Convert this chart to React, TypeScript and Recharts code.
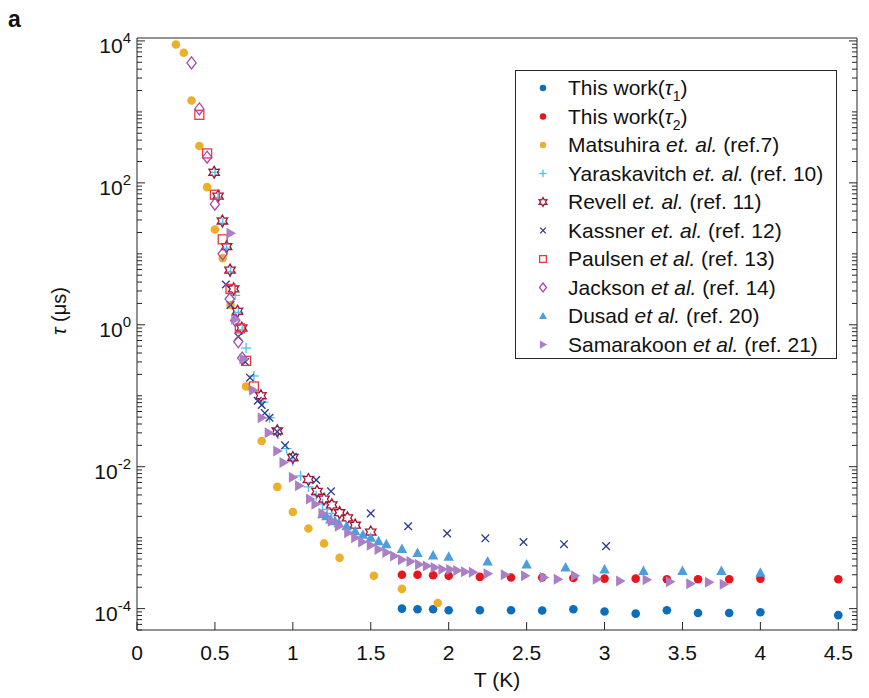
import React from 'react';
import { ScatterChart, Scatter, XAxis, YAxis, Legend } from 'recharts';

// [T (K), tau (us)]
const thisWorkTau1 = [
  [1.7, 1.0e-4], [1.8, 9.8e-5], [1.9, 9.8e-5], [2.0, 9.5e-5], [2.2, 9.5e-5], [2.4, 9.5e-5],
  [2.6, 9.4e-5], [2.8, 9.8e-5], [3.0, 9.1e-5], [3.2, 8.5e-5], [3.4, 9.5e-5], [3.6, 8.7e-5],
  [3.8, 8.7e-5], [4.0, 8.9e-5], [4.5, 8.1e-5],
];
const thisWorkTau2 = [
  [1.7, 3.0e-4], [1.8, 3.0e-4], [1.9, 2.95e-4], [2.0, 2.9e-4], [2.2, 2.8e-4], [2.4, 2.75e-4],
  [2.6, 2.75e-4], [2.8, 2.7e-4], [3.0, 2.65e-4], [3.2, 2.65e-4], [3.4, 2.6e-4], [3.6, 2.6e-4],
  [3.8, 2.6e-4], [4.0, 2.65e-4], [4.5, 2.6e-4],
];
const matsuhira = [
  [0.25, 8.9e3], [0.3, 6.8e3], [0.35, 1.45e3], [0.4, 330], [0.45, 87], [0.5, 22], [0.55, 8.7],
  [0.6, 1.9], [0.7, 0.135], [0.8, 0.023], [0.9, 5.2e-3], [1.0, 2.3e-3], [1.1, 1.35e-3],
  [1.2, 8.3e-4], [1.3, 5.2e-4], [1.52, 2.9e-4], [1.7, 1.9e-4], [1.93, 1.2e-4],
];
const yaraskavitch = [
  [0.5, 141], [0.52, 62], [0.55, 27], [0.575, 12], [0.6, 5.6], [0.63, 2.6], [0.65, 1.5],
  [0.675, 0.85], [0.7, 0.47], [0.75, 0.19], [0.81, 0.081], [0.85, 0.049], [0.905, 0.029],
  [0.96, 0.018], [1.0, 0.012], [1.05, 7.4e-3], [1.1, 5.2e-3], [1.15, 3.9e-3], [1.19, 3.0e-3],
  [1.22, 2.5e-3], [1.25, 2.2e-3],
];
const revell = [
  [0.495, 141], [0.52, 65], [0.548, 29], [0.575, 12.6], [0.597, 5.9], [0.62, 3.2], [0.645, 1.55],
  [0.672, 0.9], [0.795, 0.1], [0.9, 0.032], [1.0, 0.0135], [1.1, 6.6e-3], [1.155, 4.5e-3],
  [1.2, 3.5e-3], [1.25, 2.9e-3], [1.3, 2.25e-3], [1.35, 1.9e-3], [1.4, 1.5e-3], [1.5, 1.2e-3],
];
const kassner = [
  [0.57, 3.7], [0.6, 1.9], [0.65, 0.68], [0.695, 0.3], [0.725, 0.18], [0.775, 0.085], [0.8, 0.074],
  [0.82, 0.057], [0.85, 0.049], [0.9, 0.031], [0.95, 0.02], [1.0, 0.0138], [1.15, 6.5e-3],
  [1.245, 4.5e-3], [1.5, 2.2e-3], [1.74, 1.45e-3], [1.99, 1.15e-3], [2.235, 9.8e-4],
  [2.48, 8.7e-4], [2.74, 8.1e-4], [3.01, 7.6e-4],
];
const paulsen = [
  [0.4, 910], [0.45, 260], [0.5, 68], [0.55, 16], [0.6, 3.2], [0.66, 0.89], [0.7, 0.31], [0.75, 0.135],
];
const jackson = [
  [0.35, 4.9e3], [0.4, 1.1e3], [0.45, 230], [0.5, 50], [0.55, 10], [0.595, 2.3], [0.63, 1.15],
  [0.65, 0.58], [0.675, 0.34],
];
const dusad = [
  [1.19, 2.15e-3], [1.215, 2.0e-3], [1.24, 1.8e-3], [1.27, 1.7e-3], [1.295, 1.6e-3], [1.345, 1.45e-3],
  [1.4, 1.23e-3], [1.45, 1.1e-3], [1.5, 1.0e-3], [1.55, 8.9e-4], [1.6, 8.1e-4], [1.7, 6.9e-4],
  [1.8, 6.1e-4], [1.9, 5.6e-4], [2.0, 5.4e-4], [2.25, 4.6e-4], [2.5, 4.2e-4], [2.75, 3.8e-4],
  [3.0, 3.55e-4], [3.25, 3.4e-4], [3.5, 3.4e-4], [3.75, 3.4e-4], [4.0, 3.2e-4],
];
const samarakoon = [
  [0.6, 19.5], [0.63, 1.2], [0.683, 0.33], [0.745, 0.12], [0.8, 0.049], [0.845, 0.03], [0.9, 0.0166],
  [0.94, 0.0115], [1.0, 7.1e-3], [1.04, 5.4e-3], [1.11, 3.5e-3], [1.145, 2.95e-3], [1.19, 2.2e-3],
  [1.25, 1.7e-3], [1.295, 1.45e-3], [1.355, 1.17e-3], [1.4, 1.0e-3], [1.445, 8.7e-4], [1.5, 7.8e-4],
  [1.55, 6.8e-4], [1.6, 6.2e-4], [1.65, 5.5e-4], [1.7, 4.9e-4], [1.755, 4.6e-4], [1.81, 4.2e-4],
  [1.86, 4.0e-4], [1.91, 3.8e-4], [1.96, 3.6e-4], [2.01, 3.55e-4], [2.055, 3.45e-4], [2.105, 3.3e-4],
  [2.155, 3.25e-4], [2.25, 3.1e-4], [2.36, 3.0e-4], [2.49, 2.9e-4], [2.61, 2.75e-4], [2.7, 2.6e-4],
  [2.81, 2.9e-4], [2.95, 2.6e-4], [3.1, 2.45e-4], [3.27, 2.55e-4], [3.42, 2.4e-4], [3.55, 2.25e-4],
  [3.67, 2.35e-4], [3.765, 2.2e-4],
];

const xTicks = [0, 0.5, 1, 1.5, 2, 2.5, 3, 3.5, 4, 4.5];
const yDecades = [-5, -4, -3, -2, -1, 0, 1, 2, 3, 4];
const yMultipliers = [1, 2, 3, 4, 5, 6, 7, 8, 9];
const X_DOMAIN = [0, 4.62];
const Y_DOMAIN = [5e-5, 1.1e4];

const yTicks: number[] = [];
yDecades.forEach(d => yMultipliers.forEach(m => {
  const v = m * Math.pow(10, d);
  if (v >= Y_DOMAIN[0] && v <= Y_DOMAIN[1]) yTicks.push(v);
}));

const AXIS = '#262626';
const FONT = '"Liberation Sans", Arial, Helvetica, sans-serif';

const toPoints = (arr: number[][]) => arr.map(([T, tau]) => ({ T, tau }));

const Marker = ({ kind, color, cx, cy, s = 1 }: any) => {
  if (cx == null || cy == null) return null;
  const sw = 1.3;
  switch (kind) {
    case 'dot':
      return <circle cx={cx} cy={cy} r={4.3 * s} fill={color} />;
    case 'plus':
      return (
        <g stroke={color} strokeWidth={sw}>
          <line x1={cx - 5 * s} y1={cy} x2={cx + 5 * s} y2={cy} />
          <line x1={cx} y1={cy - 5 * s} x2={cx} y2={cy + 5 * s} />
        </g>
      );
    case 'cross':
      return (
        <g stroke={color} strokeWidth={sw}>
          <line x1={cx - 3.8 * s} y1={cy - 3.8 * s} x2={cx + 3.8 * s} y2={cy + 3.8 * s} />
          <line x1={cx - 3.8 * s} y1={cy + 3.8 * s} x2={cx + 3.8 * s} y2={cy - 3.8 * s} />
        </g>
      );
    case 'hexagram': {
      const pts: string[] = [];
      for (let i = 0; i < 12; i++) {
        const r = (i % 2 === 0 ? 6 : 3.4) * s;
        const a = (Math.PI / 6) * i - Math.PI / 2;
        pts.push(`${cx + r * Math.cos(a)},${cy + r * Math.sin(a)}`);
      }
      return <polygon points={pts.join(' ')} fill="none" stroke={color} strokeWidth={sw} />;
    }
    case 'square':
      return <rect x={cx - 4.5 * s} y={cy - 4.5 * s} width={9 * s} height={9 * s} fill="none" stroke={color} strokeWidth={sw} />;
    case 'diamond':
      return (
        <polygon
          points={`${cx},${cy - 6 * s} ${cx + 4.6 * s},${cy} ${cx},${cy + 6 * s} ${cx - 4.6 * s},${cy}`}
          fill="none" stroke={color} strokeWidth={sw}
        />
      );
    case 'triUp':
      return <polygon points={`${cx},${cy - 5.5 * s} ${cx + 5.2 * s},${cy + 4 * s} ${cx - 5.2 * s},${cy + 4 * s}`} fill={color} />;
    case 'triRight':
      return <polygon points={`${cx + 5.5 * s},${cy} ${cx - 4 * s},${cy - 5.5 * s} ${cx - 4 * s},${cy + 5.5 * s}`} fill={color} />;
    default:
      return null;
  }
};

const etal = (name: string, dot: boolean, ref: string) => (
  <>
    {name} <tspan fontStyle="italic">{dot ? 'et. al.' : 'et al.'}</tspan> {ref}
  </>
);

const SERIES = [
  { key: 'tau1', data: thisWorkTau1, kind: 'dot', color: '#0A6EBD',
    label: <>This work<tspan>(</tspan><tspan fontStyle="italic">τ</tspan><tspan dy={6} fontSize={14}>1</tspan><tspan dy={-6}>)</tspan></> },
  { key: 'tau2', data: thisWorkTau2, kind: 'dot', color: '#E8161C',
    label: <>This work<tspan>(</tspan><tspan fontStyle="italic">τ</tspan><tspan dy={6} fontSize={14}>2</tspan><tspan dy={-6}>)</tspan></> },
  { key: 'matsuhira', data: matsuhira, kind: 'dot', color: '#EBB02A', label: etal('Matsuhira', true, '(ref.7)') },
  { key: 'yaraskavitch', data: yaraskavitch, kind: 'plus', color: '#4DBEEE', label: etal('Yaraskavitch', true, '(ref. 10)') },
  { key: 'revell', data: revell, kind: 'hexagram', color: '#A2142F', label: etal('Revell', true, '(ref. 11)') },
  { key: 'kassner', data: kassner, kind: 'cross', color: '#2A3A90', label: etal('Kassner', true, '(ref. 12)') },
  { key: 'paulsen', data: paulsen, kind: 'square', color: '#E8383D', label: etal('Paulsen', false, '(ref. 13)') },
  { key: 'jackson', data: jackson, kind: 'diamond', color: '#A54AB0', label: etal('Jackson', false, '(ref. 14)') },
  { key: 'dusad', data: dusad, kind: 'triUp', color: '#4C9EDC', label: etal('Dusad', false, '(ref. 20)') },
  { key: 'samarakoon', data: samarakoon, kind: 'triRight', color: '#AB7FC6', label: etal('Samarakoon', false, '(ref. 21)') },
];

const isMajorY = (v: number) => {
  const l = Math.log10(v);
  const r = Math.round(l);
  return Math.abs(l - r) < 1e-6 && r % 2 === 0;
};

const BottomTick = ({ x, y, payload }: any) => (
  <g>
    <line x1={x} y1={y} x2={x} y2={y - 8} stroke={AXIS} />
    <text x={x} y={y + 30} textAnchor="middle" fontSize={21} fontFamily={FONT} fill="#111">
      {String(payload.value)}
    </text>
  </g>
);

const TopTick = ({ x, y }: any) => <line x1={x} y1={y} x2={x} y2={y + 8} stroke={AXIS} />;

const LeftTick = ({ x, y, payload }: any) => {
  const v = payload.value;
  const major = isMajorY(v);
  return (
    <g>
      <line x1={x} y1={y} x2={x + (major ? 8 : 5)} y2={y} stroke={AXIS} />
      {major && (
        <text x={x - 6} y={y + 12} textAnchor="end" fontSize={21} fontFamily={FONT} fill="#111">
          10<tspan dy={-10} fontSize={15}>{Math.round(Math.log10(v))}</tspan>
        </text>
      )}
    </g>
  );
};

const RightTick = ({ x, y, payload }: any) => {
  const major = isMajorY(payload.value);
  return <line x1={x} y1={y} x2={x - (major ? 8 : 5)} y2={y} stroke={AXIS} />;
};

const YTitle = () => (
  <g fontFamily={FONT} fill="#111">
    <text x={8} y={27} fontSize={23} fontWeight="bold">a</text>
    <text transform="translate(66,311) rotate(-90)" textAnchor="middle" fontSize={20}>
      <tspan fontStyle="italic">τ</tspan> (μs)
    </text>
  </g>
);

const XTitle = () => (
  <text x={497} y={687} textAnchor="middle" fontSize={21} fontFamily={FONT} fill="#111">T (K)</text>
);

const LegendBox = () => (
  <svg width={322} height={289} style={{ display: 'block' }}>
    <rect x={0.5} y={0.5} width={321} height={288} fill="#fff" stroke={AXIS} />
    {SERIES.map((s, i) => {
      const cy = 18 + i * 28.5;
      return (
        <g key={s.key}>
          <Marker kind={s.kind} color={s.color} cx={28} cy={cy} s={0.75} />
          <text x={53} y={cy + 7} fontSize={21} fontFamily={FONT} fill="#111">{s.label}</text>
        </g>
      );
    })}
  </svg>
);

export default function App() {
  return (
    <div style={{ position: 'absolute', left: 0, top: 0, width: 869, height: 698, background: '#fff' }}>
      <ScatterChart width={869} height={698} margin={{ top: 37, right: 11, bottom: 28, left: 0 }}>
        <XAxis
          xAxisId="bottom" dataKey="T" type="number" domain={X_DOMAIN} ticks={xTicks}
          allowDataOverflow height={40} tickSize={0} tickMargin={0}
          axisLine={{ stroke: AXIS }} tickLine={false} tick={<BottomTick />} interval={0}
          label={<XTitle />}
        />
        <XAxis
          xAxisId="top" orientation="top" type="number" domain={X_DOMAIN} ticks={xTicks}
          allowDataOverflow height={1} tickSize={0} tickMargin={0}
          axisLine={{ stroke: AXIS }} tickLine={false} tick={<TopTick />} interval={0}
        />
        <YAxis
          yAxisId="left" dataKey="tau" type="number" scale="log" domain={Y_DOMAIN} ticks={yTicks}
          allowDataOverflow width={137} tickSize={0} tickMargin={0}
          axisLine={{ stroke: AXIS }} tickLine={false} tick={<LeftTick />} interval={0}
          label={<YTitle />}
        />
        <YAxis
          yAxisId="right" orientation="right" type="number" scale="log" domain={Y_DOMAIN} ticks={yTicks}
          allowDataOverflow width={1} tickSize={0} tickMargin={0}
          axisLine={{ stroke: AXIS }} tickLine={false} tick={<RightTick />} interval={0}
        />
        {SERIES.map(s => (
          <Scatter
            key={s.key}
            name={s.key}
            xAxisId="bottom"
            yAxisId="left"
            data={toPoints(s.data)}
            isAnimationActive={false}
            shape={(p: any) => <Marker kind={s.kind} color={s.color} cx={p.cx} cy={p.cy} />}
          />
        ))}
        <Legend
          layout="vertical" align="center" verticalAlign="middle"
          content={() => <LegendBox />}
          wrapperStyle={{ position: 'absolute', left: 515, top: 70, width: 322, height: 289 }}
        />
      </ScatterChart>
    </div>
  );
}
